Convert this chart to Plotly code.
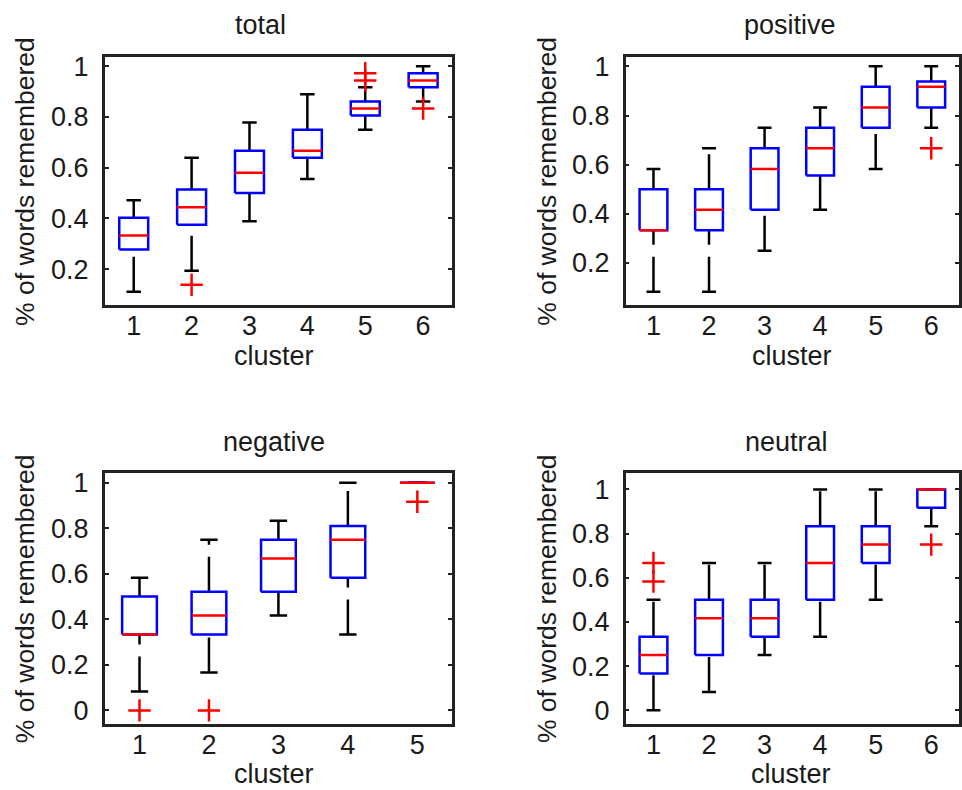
import plotly.graph_objects as go

# ---------------- data ----------------
total_clusters = [1, 2, 3, 4, 5, 6]
total_lower = [0.111, 0.194, 0.389, 0.556, 0.750, 0.861]
total_q1 = [0.278, 0.375, 0.500, 0.639, 0.806, 0.917]
total_median = [0.333, 0.444, 0.580, 0.667, 0.833, 0.944]
total_q3 = [0.403, 0.514, 0.667, 0.750, 0.861, 0.972]
total_upper = [0.472, 0.639, 0.778, 0.889, 0.917, 1.000]
total_out_x = [2, 5, 5, 6]
total_out_y = [0.139, 0.972, 0.944, 0.833]

positive_clusters = [1, 2, 3, 4, 5, 6]
positive_lower = [0.083, 0.083, 0.250, 0.417, 0.583, 0.750]
positive_q1 = [0.333, 0.333, 0.417, 0.556, 0.750, 0.833]
positive_median = [0.333, 0.417, 0.583, 0.667, 0.833, 0.917]
positive_q3 = [0.500, 0.500, 0.667, 0.750, 0.917, 0.938]
positive_upper = [0.583, 0.667, 0.750, 0.833, 1.000, 1.000]
positive_out_x = [6]
positive_out_y = [0.667]

negative_clusters = [1, 2, 3, 4, 5]
negative_lower = [0.083, 0.167, 0.417, 0.333, 1.000]
negative_q1 = [0.333, 0.333, 0.521, 0.583, 1.000]
negative_median = [0.333, 0.417, 0.667, 0.750, 1.000]
negative_q3 = [0.500, 0.521, 0.750, 0.810, 1.000]
negative_upper = [0.583, 0.750, 0.833, 1.000, 1.000]
negative_out_x = [1, 2, 5]
negative_out_y = [0.000, 0.000, 0.917]

neutral_clusters = [1, 2, 3, 4, 5, 6]
neutral_lower = [0.000, 0.083, 0.250, 0.333, 0.500, 0.833]
neutral_q1 = [0.167, 0.250, 0.333, 0.500, 0.667, 0.917]
neutral_median = [0.250, 0.417, 0.417, 0.667, 0.750, 1.000]
neutral_q3 = [0.333, 0.500, 0.500, 0.833, 0.833, 1.000]
neutral_upper = [0.500, 0.667, 0.667, 1.000, 1.000, 1.000]
neutral_out_x = [1, 1, 6]
neutral_out_y = [0.667, 0.583, 0.750]

titles = ["total", "positive", "negative", "neutral"]
y_ticks = [0, 0.2, 0.4, 0.6, 0.8, 1]
y_ticktext = ["0", "0.2", "0.4", "0.6", "0.8", "1"]
x_label = "cluster"
y_label = "% of words remembered"

# ---------------- styling / layout ----------------
W, H = 962, 790
FONT = "Liberation Sans, Arial, Helvetica, sans-serif"
TXT = "#1a1a1a"
FS = 27
HALF = 0.25      # half box width
CAP = 0.125      # half cap width
DASH = "35px,12px"
LW = 2.5

panels = [
    dict(clusters=total_clusters, lo=total_lower, q1=total_q1,
         med=total_median, q3=total_q3, up=total_upper, ox=total_out_x, oy=total_out_y,
         px=(105, 453), py=(52, 303), yr=[0.058, 1.038], tx=261, cx=275, ly=25),
    dict(clusters=positive_clusters, lo=positive_lower, q1=positive_q1,
         med=positive_median, q3=positive_q3, up=positive_upper, ox=positive_out_x, oy=positive_out_y,
         px=(627, 961), py=(52, 303), yr=[0.028, 1.040], tx=792, cx=794, ly=548),
    dict(clusters=negative_clusters, lo=negative_lower, q1=negative_q1,
         med=negative_median, q3=negative_q3, up=negative_upper, ox=negative_out_x, oy=negative_out_y,
         px=(105, 453), py=(472, 725), yr=[-0.058, 1.044], tx=275, cx=275, ly=25),
    dict(clusters=neutral_clusters, lo=neutral_lower, q1=neutral_q1,
         med=neutral_median, q3=neutral_q3, up=neutral_upper, ox=neutral_out_x, oy=neutral_out_y,
         px=(627, 961), py=(472, 725), yr=[-0.060, 1.075], tx=788, cx=793, ly=548),
]

fig = go.Figure()
layout = dict(width=W, height=H, margin=dict(l=0, r=0, t=0, b=0),
              paper_bgcolor="white", plot_bgcolor="white", showlegend=False,
              font=dict(family=FONT, size=FS, color=TXT))
annotations = []

for i, p in enumerate(panels):
    k = "" if i == 0 else str(i + 1)
    xa, ya = "x" + k, "y" + k
    n = len(p["clusters"])
    for j, c in enumerate(p["clusters"]):
        # whiskers (dashed, drawn from bottom to top)
        fig.add_trace(go.Scatter(x=[c, c], y=[p["q3"][j], p["up"][j]], mode="lines",
                                 line=dict(color="black", width=LW, dash=DASH),
                                 xaxis=xa, yaxis=ya, hoverinfo="skip"))
        fig.add_trace(go.Scatter(x=[c, c], y=[p["lo"][j], p["q1"][j]], mode="lines",
                                 line=dict(color="black", width=LW, dash=DASH),
                                 xaxis=xa, yaxis=ya, hoverinfo="skip"))
        # caps
        for v in (p["lo"][j], p["up"][j]):
            fig.add_trace(go.Scatter(x=[c - CAP, c + CAP], y=[v, v], mode="lines",
                                     line=dict(color="black", width=LW),
                                     xaxis=xa, yaxis=ya, hoverinfo="skip"))
        # box
        fig.add_trace(go.Scatter(x=[c - HALF, c + HALF, c + HALF, c - HALF, c - HALF],
                                 y=[p["q1"][j], p["q1"][j], p["q3"][j], p["q3"][j], p["q1"][j]],
                                 mode="lines", line=dict(color="#0000ff", width=LW),
                                 xaxis=xa, yaxis=ya, hoverinfo="skip"))
        # median
        fig.add_trace(go.Scatter(x=[c - HALF, c + HALF], y=[p["med"][j], p["med"][j]],
                                 mode="lines", line=dict(color="#ff0000", width=LW),
                                 xaxis=xa, yaxis=ya, hoverinfo="skip"))
    # outliers
    fig.add_trace(go.Scatter(x=p["ox"], y=p["oy"], mode="markers",
                             marker=dict(symbol="cross-thin", size=16,
                                         line=dict(color="#ff0000", width=2.5)),
                             xaxis=xa, yaxis=ya, hoverinfo="skip"))

    x0, x1 = p["px"]
    y0, y1 = p["py"]
    layout["xaxis" + k] = dict(
        domain=[x0 / W, x1 / W], anchor=ya, range=[0.5, n + 0.5],
        tickvals=p["clusters"], ticktext=[str(c) for c in p["clusters"]],
        ticks="", showline=True, mirror=True, linecolor="#222", linewidth=2.5,
        showgrid=False, zeroline=False, ticklabelstandoff=-5,
        tickfont=dict(family=FONT, size=FS, color=TXT), fixedrange=True)
    layout["yaxis" + k] = dict(
        domain=[1 - y1 / H, 1 - y0 / H], anchor=xa, range=p["yr"],
        tickvals=y_ticks, ticktext=y_ticktext,
        ticks="inside", ticklen=4, tickwidth=2, tickcolor="#222",
        showline=True, mirror="ticks", linecolor="#222", linewidth=2.5,
        showgrid=False, zeroline=False, ticklabelstandoff=8,
        tickfont=dict(family=FONT, size=FS, color=TXT), fixedrange=True)

    # title
    annotations.append(dict(text=titles[i], xref="paper", yref="paper",
                            x=p["tx"] / W, y=1 - (y0 - 31.5) / H,
                            xanchor="center", yanchor="middle",
                            showarrow=False, font=dict(family=FONT, size=FS, color=TXT)))
    # x label
    annotations.append(dict(text=x_label, xref="paper", yref="paper",
                            x=p["cx"] / W, y=1 - (y1 + 51) / H,
                            xanchor="center", yanchor="middle",
                            showarrow=False, font=dict(family=FONT, size=FS, color=TXT)))
    # y label
    annotations.append(dict(text=y_label, xref="paper", yref="paper",
                            x=p["ly"] / W, y=1 - (y0 + y1) / 2 / H,
                            xanchor="center", yanchor="middle", textangle=-90,
                            showarrow=False, font=dict(family=FONT, size=26.5, color=TXT)))

layout["annotations"] = annotations
fig.update_layout(**layout)
fig.write_html("out.html", config={"displayModeBar": False},
               post_script="document.body.style.margin='0';document.body.style.overflow='hidden';")
